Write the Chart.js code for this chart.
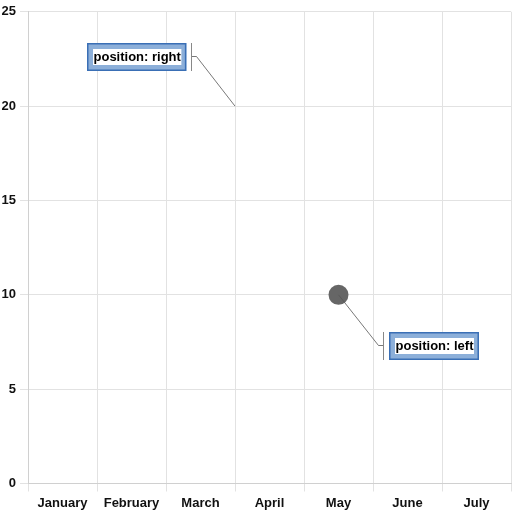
<!DOCTYPE html>
<html><head><meta charset="utf-8">
<script src="https://cdn.jsdelivr.net/npm/chart.js@4/dist/chart.umd.min.js"></script>
<style>html,body{margin:0;padding:0;background:#fff}</style>
</head><body>
<canvas id="c" width="512" height="512"></canvas>
<script>
const categories = ['January','February','March','April','May','June','July'];
const seriesValues = [null, null, null, null, 10, null, null];
const yTicks = [0, 5, 10, 15, 20, 25];
// callouts: label text, category position (index, may be fractional), value, side
const calloutLabels = ['position: right', 'position: left'];
const calloutIndex = [2.5, 4];
const calloutValues = [20, 10];
const calloutSides = ['right', 'left'];

const FONT = 'Liberation Sans, Arial, sans-serif';

const calloutPlugin = {
  id: 'callouts',
  afterDatasetsDraw(chart) {
    const ctx = chart.ctx;
    const xs = chart.scales.x, ys = chart.scales.y;
    ctx.save();
    ctx.font = 'bold 13px ' + FONT;
    for (let i = 0; i < calloutLabels.length; i++) {
      const idx = calloutIndex[i];
      const lo = Math.floor(idx), hi = Math.ceil(idx);
      const px = xs.getPixelForValue(lo) + (xs.getPixelForValue(hi) - xs.getPixelForValue(lo)) * (idx - lo);
      const py = ys.getPixelForValue(calloutValues[i]);
      const tw = ctx.measureText(calloutLabels[i]).width;
      const bw = tw + 12, bh = 28;
      let bx, by, barX, tickX;
      if (calloutSides[i] === 'right') {
        barX = Math.round(px - 44) + 0.5;
        tickX = barX + 5;
        bx = barX - 5.5 - bw;
        by = Math.round(py - 49 - bh / 2);
      } else {
        barX = Math.round(px + 44) + 0.5;
        tickX = barX - 5;
        bx = barX + 5.5;
        by = Math.round(py + 51 - bh / 2);
      }
      bx = Math.round(bx);
      const cy = by + bh / 2;
      // connector
      ctx.strokeStyle = '#555';
      ctx.lineWidth = 0.8;
      ctx.beginPath();
      ctx.moveTo(px, py);
      ctx.lineTo(tickX, Math.round(cy) - 0.5);
      ctx.lineTo(barX, Math.round(cy) - 0.5);
      ctx.stroke();
      ctx.strokeStyle = '#888';
      ctx.lineWidth = 1;
      ctx.beginPath();
      ctx.moveTo(barX, by);
      ctx.lineTo(barX, by + bh);
      ctx.stroke();
      // box
      ctx.fillStyle = '#8cafd9';
      ctx.fillRect(bx, by, bw, bh);
      ctx.strokeStyle = '#3a6fb5';
      ctx.lineWidth = 1.5;
      ctx.strokeRect(bx + 0.75, by + 0.75, bw - 1.5, bh - 1.5);
      ctx.fillStyle = '#ffffff';
      ctx.fillRect(bx + 6, by + 6, tw + 1, bh - 12);
      ctx.fillStyle = '#000';
      ctx.textBaseline = 'middle';
      ctx.textAlign = 'left';
      ctx.fillText(calloutLabels[i], bx + 6.5, cy + 0.5);
    }
    ctx.restore();
  }
};

new Chart(document.getElementById('c'), {
  type: 'line',
  data: {
    labels: categories,
    datasets: [{
      data: seriesValues,
      showLine: false,
      pointRadius: 10,
      pointBackgroundColor: '#666666',
      pointBorderColor: '#666666',
      pointBorderWidth: 0
    }]
  },
  options: {
    responsive: false,
    animation: false,
    layout: { autoPadding: false, padding: { top: 1, right: 1, bottom: 1, left: 1.5 } },
    plugins: { legend: { display: false }, tooltip: { enabled: false } },
    scales: {
      x: {
        offset: true,
        afterFit(scale) { scale.paddingLeft = 0; scale.paddingRight = 0; scale.height = 27.5; },
        grid: { offset: true, color: '#e2e2e2', tickLength: 8 },
        border: { color: '#d0d0d0' },
        ticks: { color: '#111', padding: 4, font: { family: FONT, size: 13, weight: 'bold' }, maxRotation: 0 }
      },
      y: {
        min: yTicks[0], max: yTicks[yTicks.length - 1],
        afterBuildTicks(scale) { scale.ticks = yTicks.map(v => ({ value: v })); },
        afterFit(scale) { scale.width = 26.5; },
        grid: { color: '#e2e2e2', tickLength: 8 },
        border: { color: '#d0d0d0' },
        ticks: { color: '#111', padding: 4, font: { family: FONT, size: 13, weight: 'bold' } }
      }
    }
  },
  plugins: [calloutPlugin]
});
</script>
</body></html>
